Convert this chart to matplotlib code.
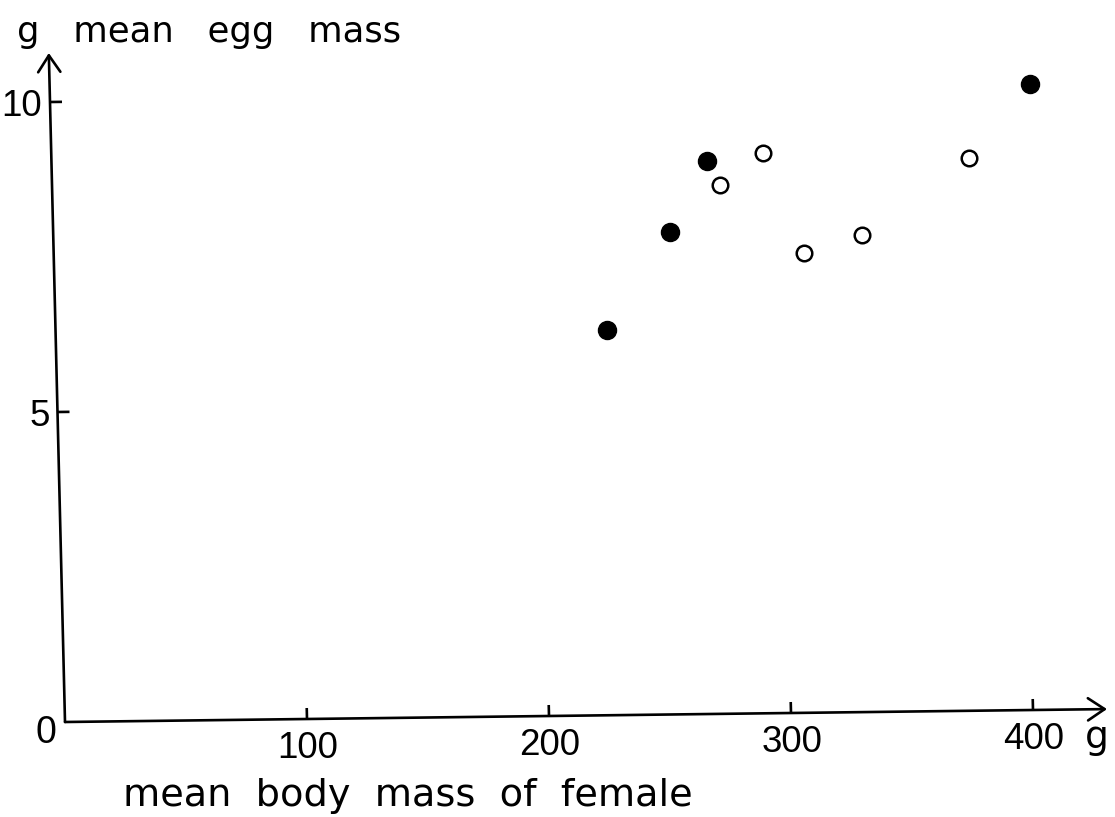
import numpy as np
import matplotlib
matplotlib.use("Agg")
import matplotlib.pyplot as plt
from matplotlib.transforms import Affine2D
from matplotlib.patches import FancyArrowPatch

# ---- data ----
female_mass_filled = [228, 255, 271, 405]
egg_mass_filled = [6.22, 7.78, 8.92, 10.10]
female_mass_open = [276, 294, 310, 334, 379]
egg_mass_open = [8.53, 9.03, 7.41, 7.69, 8.91]

x_ticks = [100, 200, 300, 400]
x_tick_labels = ["100", "200", "300", "400"]
y_ticks = [5, 10]
y_tick_labels = ["5", "10"]

x_label = "mean  body  mass  of  female"
y_label = "g   mean   egg   mass"
x_unit = "g"

NUM_FONT = ["Liberation Sans", "DejaVu Sans"]
TXT_FONT = ["DejaVu Sans"]

W, H = 1115, 817
fig = plt.figure(figsize=(W / 100, H / 100), dpi=100)
fig.patch.set_facecolor("white")

ox, oy = 65, H - 722          # origin in display pixels
ax_w, ax_h = 1042, 669        # axis lengths in pixels
px_x, px_y = 2.42, 62.0       # pixels per data unit
ax = fig.add_axes([ox / W, oy / H, ax_w / W, ax_h / H])
ax.set_xlim(0, ax_w / px_x)
ax.set_ylim(0, ax_h / px_y)
ax.axis("off")

# slight skew/rotation of the scanned drawing
M = Affine2D(np.array([[1.0, -0.0242, 0.0], [0.0124, 1.0, 0.0], [0.0, 0.0, 1.0]]))
skew = Affine2D().translate(-ox, -oy) + M + Affine2D().translate(ox, oy)
tr = ax.transData + skew

xmax = ax_w / px_x
ymax = ax_h / px_y
lw = 1.9
for end in [(xmax, 0), (0, ymax)]:
    arr = FancyArrowPatch((0, 0), end, transform=tr,
                          arrowstyle="->,head_length=0.6,head_width=0.4",
                          mutation_scale=20, lw=lw, color="black",
                          shrinkA=0, shrinkB=0, clip_on=False)
    ax.add_patch(arr)

# ticks
for t in x_ticks:
    ax.plot([t, t], [0, 11 / px_y], transform=tr, color="black", lw=lw,
            solid_capstyle="butt", clip_on=False)
for t in y_ticks:
    ax.plot([0, 12 / px_x], [t, t], transform=tr, color="black", lw=lw,
            solid_capstyle="butt", clip_on=False)

# tick labels
for t, lab in zip(x_ticks, x_tick_labels):
    ax.text(t, -39 / px_y, lab, transform=tr, ha="center", va="baseline",
            fontsize=26.5, family=NUM_FONT, clip_on=False)
for t, lab in zip(y_ticks, y_tick_labels):
    ax.text(-8 / px_x, t - 14 / px_y, lab, transform=tr, ha="right",
            va="baseline", fontsize=26.5, family=NUM_FONT, clip_on=False)
ax.text(-9 / px_x, -21 / px_y, "0", transform=tr, ha="right", va="baseline",
        fontsize=27, family=NUM_FONT, clip_on=False)
ax.text(426, -39 / px_y, x_unit, transform=tr, ha="center", va="baseline",
        fontsize=27, family=TXT_FONT, clip_on=False)

# data points
ax.plot(female_mass_filled, egg_mass_filled, linestyle="none", marker="o",
        ms=13, color="black", transform=tr, clip_on=False)
ax.plot(female_mass_open, egg_mass_open, linestyle="none", marker="o",
        ms=11.2, mfc="white", mec="black", mew=1.8, transform=tr, clip_on=False)

# axis titles
fig.text(17 / W, 1 - 42 / H, y_label, fontsize=25.5, family=TXT_FONT,
         ha="left", va="baseline")
fig.text(123 / W, 1 - 806 / H, x_label, fontsize=27.5, family=TXT_FONT,
         ha="left", va="baseline")

fig.savefig("out.png", dpi=100, facecolor="white")
